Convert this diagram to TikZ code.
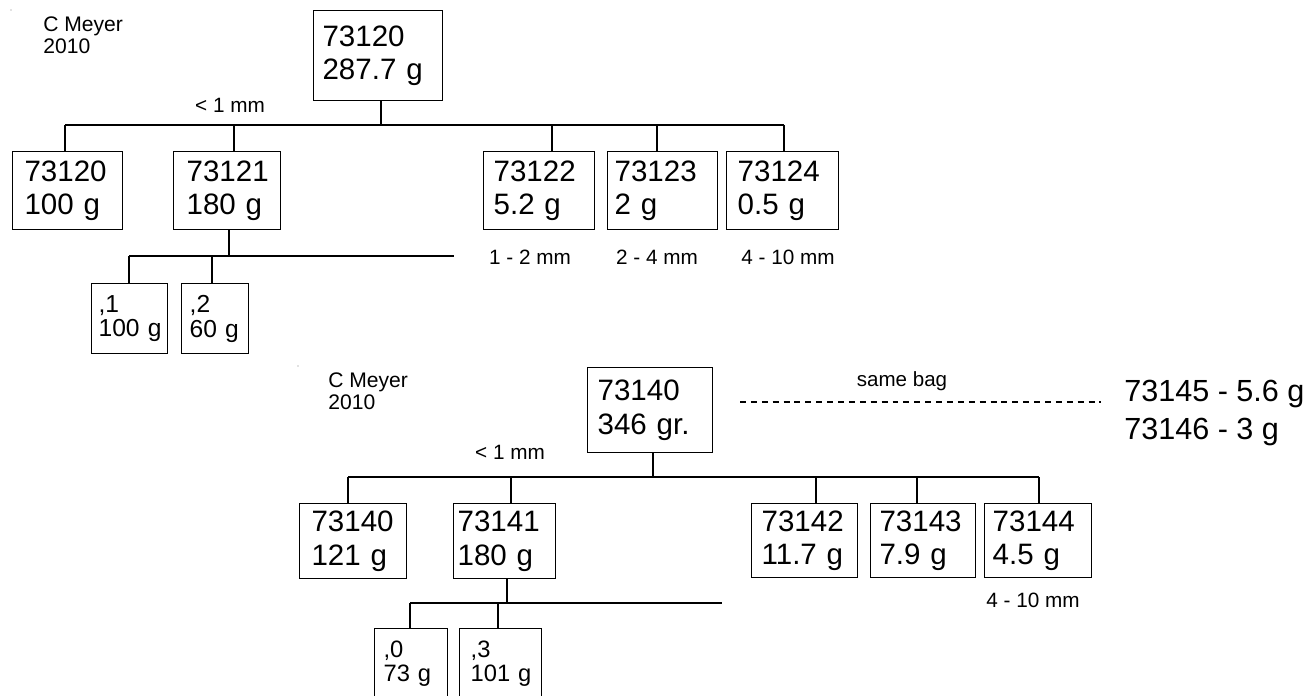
\documentclass[tikz,border=0pt]{standalone}
\usepackage{fontspec}
\setmainfont{Liberation Sans}
\usetikzlibrary{positioning}

\begin{document}
\begin{tikzpicture}[
  x=0.02cm, y=-0.02cm,
  every node/.style={inner sep=0pt, font=\fontsize{11.8}{12.5}\selectfont},
  lot/.style={draw, line width=0.7pt, anchor=north west, align=left, inner ysep=0pt,
    font=\fontsize{16.8}{19}\selectfont},
  sublot/.style={lot, font=\fontsize{14}{14.2}\selectfont},
  author/.style={anchor=north west, align=left, font=\fontsize{12}{12.5}\selectfont},
  speck/.style={circle, fill=gray, minimum size=0.8pt},
  link/.style={draw, line width=0.7pt}
]
\useasboundingbox (0,0) rectangle (1316,696);

% upper tree
\node[speck] (speck1) at (11,10) {};
\node[author] (who1) at (43,16) {C Meyer\\2010};
\node[lot, inner xsep=5.1pt, text width=63.2pt, minimum height=51.2pt] (r1) at (313,10) {73120\\287.7~g};
\node[lot, inner xsep=6.8pt, text width=49pt, minimum height=44.4pt] (c10) at (12,151) {73120\\100~g};
\node[lot, inner xsep=7.4pt, text width=46.1pt, minimum height=44.4pt] (c11) at (173,151) {73121\\180~g};
\node[lot, inner xsep=5.7pt, text width=51.8pt, minimum height=44.4pt] (c12) at (483,151) {73122\\5.2~g};
\node[lot, inner xsep=4pt, text width=54.6pt, minimum height=44.4pt] (c13) at (607,151) {73123\\2~g};
\node[lot, inner xsep=6.3pt, text width=51.1pt, minimum height=44.4pt] (c14) at (726,151) {73124\\0.5~g};
\node[sublot, inner xsep=4pt, text width=35.3pt, minimum height=39.8pt] (d11) at (91,283) {,1\\100~g};
\node[sublot, inner xsep=4.6pt, text width=28.9pt, minimum height=39.8pt] (d12) at (181,283) {,2\\60~g};

\node (fine1) at (230,105) {< 1 mm};
\node (size12) at (530,257) {1 - 2 mm};
\node (size13) at (657,257) {2 - 4 mm};
\node (size14) at (788,257) {4 - 10 mm};

% lower tree
\node[speck] (speck2) at (298,366) {};
\node[author] (who2) at (328,372) {C Meyer\\2010};
\node[lot, inner xsep=5.7pt, text width=59.7pt, minimum height=48.4pt] (r2) at (587,367) {73140\\346~gr.};
\node[lot, inner xsep=6.8pt, text width=47.3pt, minimum height=42.7pt] (c20) at (299,503) {73140\\121~g};
\node[lot, inner xsep=2.3pt, text width=53.4pt, minimum height=42.7pt] (c21) at (453,503) {73141\\180~g};
\node[lot, inner xsep=5.7pt, text width=48.9pt, minimum height=42.1pt] (c22) at (751,503) {73142\\11.7~g};
\node[lot, inner xsep=5.1pt, text width=49.6pt, minimum height=42.1pt] (c23) at (870,503) {73143\\7.9~g};
\node[lot, inner xsep=4.6pt, text width=51.7pt, minimum height=42.1pt] (c24) at (984,503) {73144\\4.5~g};
\node[sublot, font=\fontsize{13.5}{14}\selectfont, inner xsep=5.1pt, text width=31.3pt, minimum height=40pt] (d20) at (374,628) {,0\\73~g};
\node[sublot, font=\fontsize{13.5}{14}\selectfont, inner xsep=6.3pt, text width=34.1pt, minimum height=40pt] (d23) at (459,628) {,3\\101~g};

\node (fine2) at (510,452) {< 1 mm};
\node (size24) at (1033,600) {4 - 10 mm};
\node[font=\fontsize{11.7}{13}\selectfont] (bag) at (902,381) {same bag};
\node[anchor=north west, align=left, font=\fontsize{17.4}{21.3}\selectfont] (extra) at (1124,380) {73145 - 5.6 g\\73146 - 3 g};
\coordinate (bagw) at (740,402);
\coordinate (bage) at (1101,402);
\draw[line width=0.6pt, dash pattern=on 3.4pt off 2.8pt] (bagw) -- (bage);

% connectors
\foreach \n/\x/\y in {r1/381/125, c11/229/256, r2/653/477, c21/507/603}
  {\coordinate (h\n) at (\x,\y);
   \draw[link] (h\n |- \n.south) -- (h\n);}
\foreach \n/\x/\y in {c10/65/125, c11/234/125, c12/552/125, c13/657/125, c14/784/125,
  d11/129/256, d12/212/256, c20/348/477, c21/511/477, c22/816/477, c23/917/477,
  c24/1039/477, d20/410/603, d23/498/603}
  {\coordinate (j\n) at (\x,\y);
   \draw[link] (j\n) -- (j\n |- \n.north);}
\coordinate (sub1e) at (454,256);
\coordinate (sub2e) at (722,603);
\draw[link] (jc10) -- (jc14);
\draw[link] (jd11) -- (sub1e);
\draw[link] (jc20) -- (jc24);
\draw[link] (jd20) -- (sub2e);
\end{tikzpicture}
\end{document}
